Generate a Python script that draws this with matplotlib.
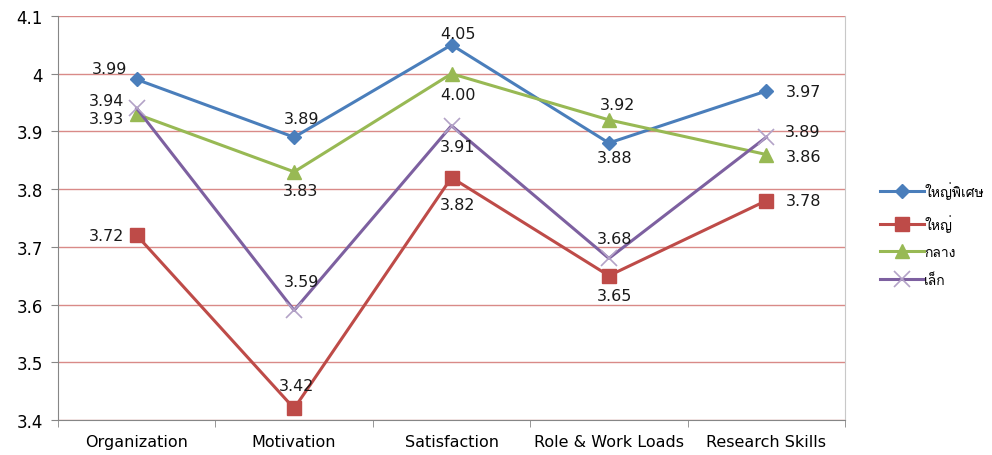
import matplotlib
matplotlib.use('Agg')
import matplotlib.pyplot as plt

categories = ['Organization', 'Motivation', 'Satisfaction', 'Role & Work Loads', 'Research Skills']
series_names = ['ใหญ่พิเศษ', 'ใหญ่', 'กลาง', 'เล็ก']
extra_large = [3.99, 3.89, 4.05, 3.88, 3.97]
large = [3.72, 3.42, 3.82, 3.65, 3.78]
medium = [3.93, 3.83, 4.00, 3.92, 3.86]
small = [3.94, 3.59, 3.91, 3.68, 3.89]

# data label offsets in pixels (dx, dy up); 'l'/'r' = anchored at right/left edge of text
label_offsets = [
    [('l', -10, 11), ('c', 7, 19), ('c', 6, 11), ('c', 6, -15), ('r', 20, 0)],
    [('l', -13, 0), ('c', 2, 23), ('c', 6, -27), ('c', 6, -20), ('r', 20, 0)],
    [('l', -13, -4), ('c', 6, -19), ('c', 6, -21), ('c', 9, 15), ('r', 20, -2)],
    [('l', -13, 8), ('c', 7, 29), ('c', 6, -21), ('c', 6, 20), ('r', 19, 6)],
]

colors = ['#4A7EBB', '#BE4B48', '#98B954', '#7D60A0']
markers = ['D', 's', '^', 'x']
msizes = [7, 10, 10, 11]
px = 0.72

fig = plt.figure(figsize=(9.92, 4.56), dpi=100)
ax = fig.add_axes([0.0585, 0.0768, 0.7933, 0.8859])

x = list(range(len(categories)))
for vals, name, c, m, ms, offs in zip([extra_large, large, medium, small], series_names,
                                      colors, markers, msizes, label_offsets):
    ax.plot(x, vals, color=c, lw=2.2, marker=m, ms=ms, mfc=c,
            mec=('#B3A2C7' if m == 'x' else c), mew=(1.2 if m == 'x' else 1),
            label=name, zorder=3)
    for xi, v, (a, dx, dy) in zip(x, vals, offs):
        ha = {'l': 'right', 'r': 'left', 'c': 'center'}[a]
        ax.annotate('%.2f' % v, (xi, v), xytext=(dx * px, dy * px), textcoords='offset points',
                    ha=ha, va='center', fontsize=11.5, family='DejaVu Sans',
                    color='#1a1a1a', zorder=4)

ax.set_xlim(-0.5, len(categories) - 0.5)
ax.set_ylim(3.4, 4.1)
ax.set_yticks([3.4, 3.5, 3.6, 3.7, 3.8, 3.9, 4.0, 4.1])
ax.set_yticklabels(['3.4', '3.5', '3.6', '3.7', '3.8', '3.9', '4', '4.1'],
                   family='DejaVu Sans', fontsize=12)
ax.set_xticks(x)
ax.set_xticklabels(categories, fontsize=11.5, family='DejaVu Sans')
ax.set_xticks([i - 0.5 for i in range(len(categories) + 1)], minor=True)
ax.tick_params(axis='x', which='major', length=0, pad=10)
ax.tick_params(axis='x', which='minor', length=5, color='#868686')
ax.tick_params(axis='y', length=5, color='#868686', pad=6)
ax.grid(axis='y', color='#D98A88', lw=1)
ax.set_axisbelow(True)
ax.spines['top'].set_visible(False)
ax.spines['left'].set_color('#868686')
ax.spines['bottom'].set_color('#868686')
ax.spines['right'].set_color('#C8C8C8')

leg = ax.legend(loc='center left', bbox_to_anchor=(1.037, 0.46), frameon=False,
                prop={'family': ['Loma', 'DejaVu Sans'], 'size': 10},
                handlelength=3.2, labelspacing=1.05, handletextpad=0.0,
                borderaxespad=0.0)

fig.savefig('out.png', dpi=100)
